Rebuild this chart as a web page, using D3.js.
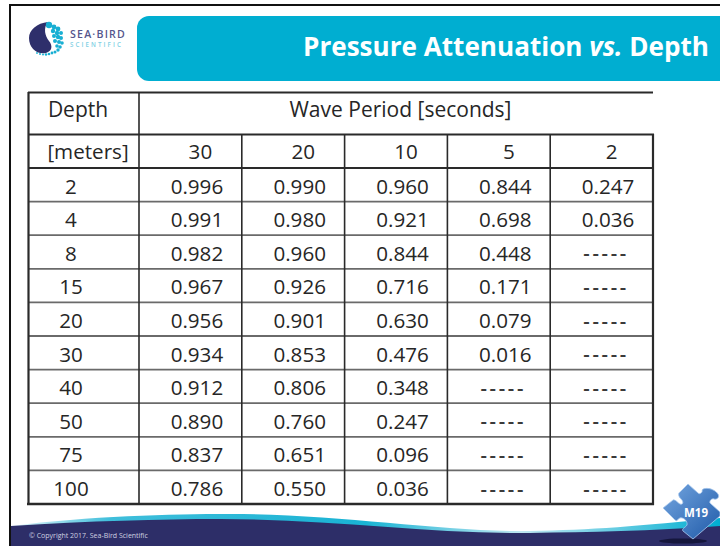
<!DOCTYPE html>
<html><head><meta charset="utf-8">
<script src="https://cdn.jsdelivr.net/npm/d3@7/dist/d3.min.js"></script>
<style>html,body{margin:0;padding:0;background:#fff;overflow:hidden}svg{display:block}</style>
</head><body><svg id="c" width="720" height="546"></svg>
<script>
const titleMain = "Pressure Attenuation ";
const titleItalic = "vs.";
const titleEnd = " Depth";
const depthHead = "Depth";
const depthUnits = "[meters]";
const periodHead = "Wave Period [seconds]";
const periods = ["30","20","10","5","2"];
const depths = ["2","4","8","15","20","30","40","50","75","100"];
const col30 = ["0.996","0.991","0.982","0.967","0.956","0.934","0.912","0.890","0.837","0.786"];
const col20 = ["0.990","0.980","0.960","0.926","0.901","0.853","0.806","0.760","0.651","0.550"];
const col10 = ["0.960","0.921","0.844","0.716","0.630","0.476","0.348","0.247","0.096","0.036"];
const col5  = ["0.844","0.698","0.448","0.171","0.079","0.016","-----","-----","-----","-----"];
const col2  = ["0.247","0.036","-----","-----","-----","-----","-----","-----","-----","-----"];
const columns = [col30,col20,col10,col5,col2];

const svg = d3.select("#c");
const font = "'Open Sans','Noto Sans',sans-serif";
const ink = "#262626";
const line = "#2a2a2a";

// frame
svg.append("rect").attr("x",10).attr("y",5).attr("width",720).attr("height",560).attr("fill","#fff").attr("stroke","#111").attr("stroke-width",2);

// banner
svg.append("path").attr("d","M720,16H149a12,12 0 0 0 -12,12V69a12,12 0 0 0 12,12H720Z").attr("fill","#00AED1");
const t = svg.append("text").attr("x",303).attr("y",56).attr("fill","#fff")
  .attr("font-family",font).attr("font-size",26.1).attr("font-weight",700);
t.append("tspan").text(titleMain).attr("xml:space","preserve");
t.append("tspan").text(titleItalic).attr("font-style","italic");
t.append("tspan").text(titleEnd);

// logo
const logo = svg.append("g");
logo.append("path").attr("fill","#2E2F6B")
  .attr("d","M48,22C37,23 29,30 29,38C29,48 37,55 46,53C52,51 53,46 49,41C45,36 43,28 48,22Z");
const dots = [[49,25,3.2],[54,27,2.4],[58,29,2.4],[53,31,2.2],[57,33,2.2],[61,33,2],[54,36,2],[58,37,2.2],[61,38,2],[55,41,2],[59,42,2],[62,43,1.8],[57,46,1.8],[60,47,1.8],[58,50,1.7],[55,52,1.5],[52,53,1.4],[49,54,1.3],[46,54.5,1.2],[43,54.5,1],[40,54,1],[37,53,.9]];
logo.selectAll("circle").data(dots).join("circle").attr("cx",d=>d[0]).attr("cy",d=>d[1]).attr("r",d=>d[2]).attr("fill","#19AFD3");
logo.append("text").attr("x",70).attr("y",38).text("SEA·BIRD").attr("font-family",font).attr("font-size",10.6).attr("font-weight",600).attr("letter-spacing",1.2).attr("fill","#55568c");
logo.append("text").attr("x",70).attr("y",47).text("SCIENTIFIC").attr("font-family",font).attr("font-size",6.2).attr("font-weight",600).attr("letter-spacing",2.1).attr("fill","#7fd0e4");

// footer
const defs = svg.append("defs");
const g = defs.append("linearGradient").attr("id","sw");
g.append("stop").attr("offset","0").attr("stop-color","#e6f6fa");
g.append("stop").attr("offset",".14").attr("stop-color","#3fbedb");
g.append("stop").attr("offset",".5").attr("stop-color","#19b3d4");
g.append("stop").attr("offset",".72").attr("stop-color","#bfe7f1");
g.append("stop").attr("offset","1").attr("stop-color","#00AED1");
svg.append("path").attr("fill","url(#sw)").attr("d","M11,526C90,516 170,514 230,514C340,514 440,532 530,531C590,530 640,526 720,518V535H11Z");
svg.append("path").attr("fill","#2D2E68").attr("d","M11,526C90,521 160,519 220,519C330,519 430,534 530,533C590,532 650,531 720,526V546H11Z");
svg.append("text").attr("x",29).attr("y",537.5).text("© Copyright 2017. Sea-Bird Scientific").attr("font-family",font).attr("font-size",7).attr("fill","#cfd0e0");

// puzzle piece
const grad = defs.append("linearGradient").attr("id","pz").attr("x1",0).attr("y1",0).attr("x2",1).attr("y2",1);
grad.append("stop").attr("offset","0").attr("stop-color","#74a6e0");
grad.append("stop").attr("offset","1").attr("stop-color","#1f5aa8");
svg.append("ellipse").attr("cx",683).attr("cy",541).attr("rx",24).attr("ry",2.6).attr("fill","#15163c");
svg.append("path").attr("fill","url(#pz)").attr("stroke","#a9c9ee").attr("stroke-width",.8)
  .attr("d","M688,484L698,493C700,495 703,492 702,490C704,487 714,488 718,494C720,497 717,500 714,499C712,498 709,501 710,503L720,512V516L693,539L683,531C681,529 686,527 687,525C688,521 683,517 680,518C677,519 678,522 675,520L663,508L673,500C675,499 678,503 680,504C683,505 684,502 681,499C678,496 678,493 680,492Z");
svg.append("text").attr("x",696).attr("y",517).attr("text-anchor","middle").text("M19").attr("font-family",font).attr("font-weight",700).attr("font-size",11.5).attr("fill","#fff");

// table scales
const x = d3.scaleBand().domain(periods).range([139,653]);
const yRows = d3.scaleBand().domain(depths).range([168,504]);
const fs = 20.6;
const tbl = svg.append("g");
const hdrOffset = 10, numOffset = 6.5, dashOffset = 4.5;

function label(s,xp,yp,size){
  const n = tbl.append("text").attr("x",xp).attr("y",yp).attr("text-anchor","middle")
    .attr("dominant-baseline","central").attr("font-family",font).attr("font-size",size||fs).attr("fill",ink).text(s);
  if(s==="-----") n.attr("letter-spacing",2.7).attr("font-size",20).attr("font-weight",600).attr("fill","#3a3a3a");
  return n;
}
label(depthHead,78,109,21);
label(depthUnits,88,151);
label(periodHead,400.5,109,21);
periods.forEach(p=>label(p,x(p)+x.bandwidth()/2+hdrOffset,151));
depths.forEach((d,i)=>{
  const yc = yRows(d)+yRows.bandwidth()/2 + .8;
  label(d,71,yc);
  periods.forEach((p,j)=>{
    const v = columns[j][i];
    label(v,x(p)+x.bandwidth()/2+(v==="-----"?dashOffset:numOffset),yc);
  });
});

// grid
function seg(x1,y1,x2,y2,w=1.6,c=line){tbl.append("line").attr("x1",x1).attr("y1",y1).attr("x2",x2).attr("y2",y2).attr("stroke",c).attr("stroke-width",w);}
seg(28,92.5,653,92.5,2);
seg(28,134.5,654,134.5,2);
seg(28,168,654,168,2);
depths.slice(1).forEach(d=>seg(28,yRows(d),653,yRows(d),1.8,"#6a6a6a"));
seg(27,504,654,504,2.4);
seg(28.5,92,28.5,505,2.2);
seg(139,92,139,505,1.6);
periods.slice(1).forEach(p=>seg(x(p),134,x(p),505,1.6));
seg(653,134,653,505,2.2);
</script></body></html>
